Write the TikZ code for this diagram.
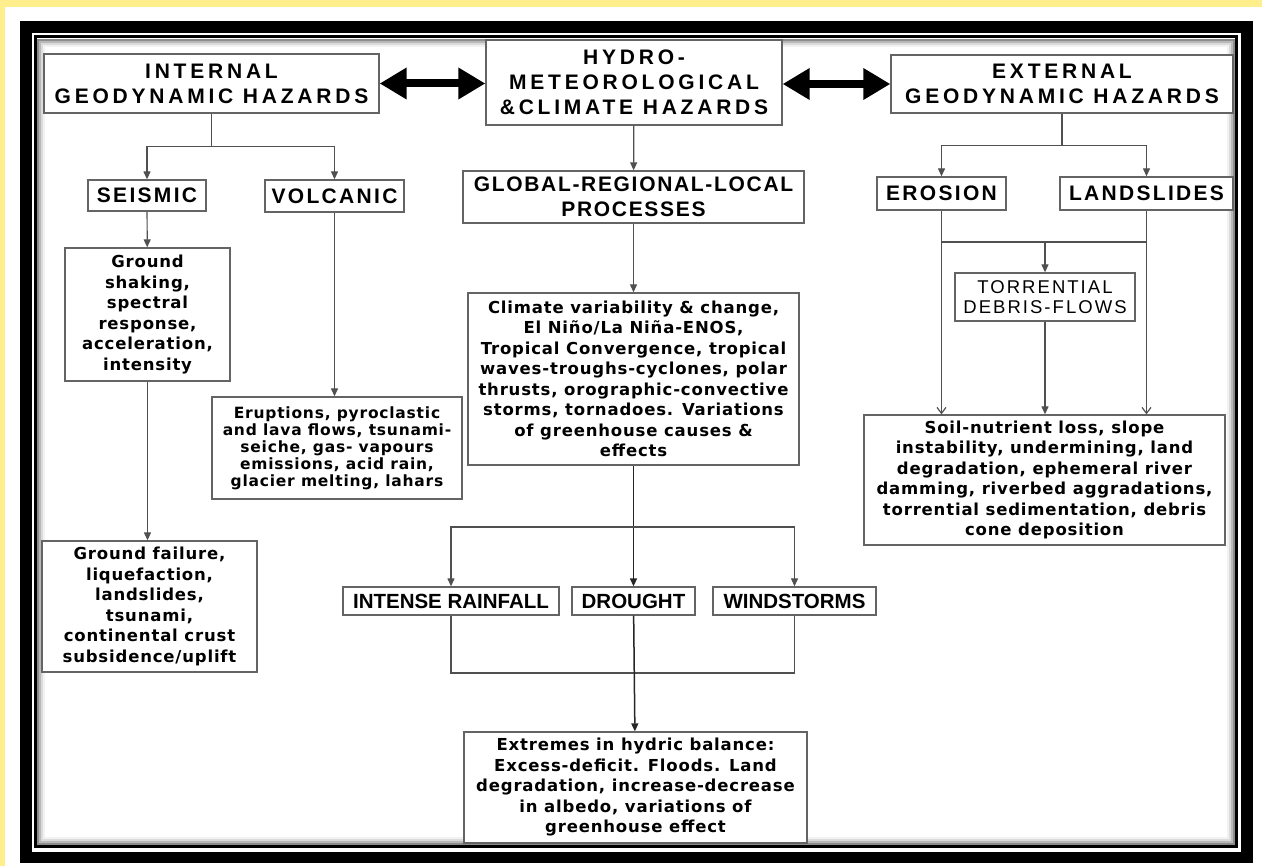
\documentclass[tikz,border=0pt]{standalone}
\usepackage{fontspec}
\setmainfont{Liberation Sans}
\newfontfamily\hdfont[LetterSpace=18]{Liberation Sans}
\newfontfamily\subfont[LetterSpace=11]{Liberation Sans}
\newfontfamily\glfont[LetterSpace=8]{Liberation Sans}
\newfontfamily\bodyfont[LetterSpace=5]{DejaVu Sans}
\usetikzlibrary{arrows.meta,positioning,calc}

\definecolor{pagebg}{RGB}{255,238,140}
\definecolor{lncol}{RGB}{80,80,80}
\definecolor{boxcol}{RGB}{100,100,100}

\begin{document}
\begin{tikzpicture}[x=1pt, y=-1pt,
  box/.style={rectangle, draw=boxcol, line width=1.3pt, fill=white,
              inner sep=0pt, align=center},
  hd/.style={box, font=\hdfont\bfseries\fontsize{21}{25}\selectfont},
  sub/.style={box, font=\subfont\bfseries\fontsize{21}{25}\selectfont},
  glob/.style={box, font=\glfont\bfseries\fontsize{21}{25}\selectfont},
  opt/.style={box, font=\bfseries\fontsize{20.5}{24}\selectfont},
  torrbox/.style={box, font=\subfont\fontsize{18.5}{20}\selectfont},
  body/.style={box, font=\bodyfont\bfseries\fontsize{16.5}{20.5}\selectfont},
  ln/.style={draw=lncol, line width=1.2pt},
  spine/.style={draw=black!85, line width=1.5pt},
  ar/.style={ln, -{Triangle[length=8pt,width=7pt]}},
  barb/.style={ln, -{Straight Barb[length=6pt,width=9pt]}},
  dbl/.style={{Triangle[length=27pt,width=30pt]}-{Triangle[length=27pt,width=30pt]}, line width=8pt}
]
\useasboundingbox (0,0) rectangle (1262,866);
\fill[pagebg] (0,0) rectangle (1262,866);
\fill[white] (5,7) rectangle (1262,866);
\draw[line width=11.5pt] (26,27) rectangle (1247,857.5);
\foreach \d/\c in {3/45,5/28,7/14,9/5}
  \draw[black!\c, line width=2pt] (35+\d,37+\d) rectangle (1236.5-\d,846.5-\d);
\draw[line width=3pt] (35,37) rectangle (1236.5,846.5);

\node[hd, minimum width=335pt, minimum height=59pt] (intgeo) at (211.5,83.5) {INTERNAL\\GEODYNAMIC HAZARDS};
\node[hd, minimum width=296pt, minimum height=85pt] (hydro)  at (634,82.5)   {HYDRO-\\METEOROLOGICAL\\\&CLIMATE HAZARDS};
\node[hd, minimum width=342pt, minimum height=58pt] (extgeo) at (1062,84)    {EXTERNAL\\GEODYNAMIC HAZARDS};

\node[sub, minimum width=118pt, minimum height=31pt] (seis) at (147,195.5)    {SEISMIC};
\node[sub, minimum width=139pt, minimum height=32pt] (volc) at (334.5,196)    {VOLCANIC};
\node[glob, minimum width=341pt, minimum height=52pt] (glpro) at (633.5,197)  {GLOBAL-REGIONAL-LOCAL\\PROCESSES};
\node[sub, minimum width=129pt, minimum height=33pt] (eros) at (941.5,193.5)  {EROSION};
\node[sub, minimum width=173pt, minimum height=33pt] (land) at (1146.5,193.5) {LANDSLIDES};

\node[body, minimum width=165pt, minimum height=133pt] (shake) at (147.5,314.5) {Ground\\shaking,\\spectral\\response,\\acceleration,\\intensity};
\node[body, minimum width=215pt, minimum height=131pt] (fail)  at (149.5,606.5) {Ground failure,\\liquefaction,\\landslides,\\tsunami,\\continental crust\\subsidence/uplift};
\node[body, minimum width=250pt, minimum height=102pt, font=\bodyfont\bfseries\fontsize{15.5}{17}\selectfont] (erupt) at (337,448) {Eruptions, pyroclastic\\and lava flows, tsunami-\\seiche, gas- vapours\\emissions, acid rain,\\glacier melting, lahars};
\node[body, minimum width=331pt, minimum height=172pt] (clim) at (633.5,379) {Climate variability \& change,\\El Niño/La Niña-ENOS,\\Tropical Convergence, tropical\\waves-troughs-cyclones, polar\\thrusts, orographic-convective\\storms, tornadoes. Variations\\of greenhouse causes \&\\effects};
\node[torrbox, minimum width=180pt, minimum height=48pt] (torr) at (1045,297) {TORRENTIAL\\DEBRIS-FLOWS};
\node[body, minimum width=361pt, minimum height=130pt] (soil) at (1044.5,480) {Soil-nutrient loss, slope\\instability, undermining, land\\degradation, ephemeral river\\damming, riverbed aggradations,\\torrential sedimentation, debris\\cone deposition};

\node[opt, minimum width=216pt, minimum height=28pt] (rain)    at (451,601)   {INTENSE RAINFALL};
\node[opt, minimum width=123pt, minimum height=28pt] (drought) at (633.5,601) {DROUGHT};
\node[opt, minimum width=163pt, minimum height=28pt] (wind)    at (794.5,601) {WINDSTORMS};
\node[body, minimum width=343pt, minimum height=111pt] (extr) at (635.5,787.5) {Extremes in hydric balance:\\Excess-deficit. Floods. Land\\degradation, increase-decrease\\in albedo, variations of\\greenhouse effect};

\draw[dbl] (intgeo.east) -- (intgeo.east -| hydro.west);
\draw[dbl] (hydro.east |- extgeo.west) -- (extgeo.west);

\draw[ln] (intgeo.south) -- ++(0,33) coordinate (lsplit);
\draw[ar] (lsplit) -| (seis);
\draw[ar] (lsplit) -| (volc);
\draw[ar] (seis) -- (shake);
\draw[ar] (shake) -- (shake |- fail.north);
\draw[ar] (volc) -- (volc |- erupt.north);

\draw[ar] (hydro) -- (glpro);
\draw[ar] (glpro) -- (clim);
\coordinate (msplit) at (634,527);
\coordinate (mjoin) at (634,673);
\draw[spine, -{Triangle[length=8pt,width=7pt]}] (clim) -- (drought);
\draw[ar] (msplit) -| (rain);
\draw[ar] (msplit) -| (wind);
\draw[ln] (rain.south) |- (mjoin) -| (wind.south);
\draw[spine, -{Triangle[length=8pt,width=7pt]}] (drought) -- (extr);

\draw[ln] (extgeo.south) -- ++(0,32) coordinate (rsplit);
\draw[ar] (rsplit) -| (eros);
\draw[ar] (rsplit) -| (land);
\coordinate (rbar) at (1045,242);
\draw[ln] (eros |- rbar) -- (land |- rbar);
\draw[barb] (eros) -- (eros |- soil.north);
\draw[barb] (land) -- (land |- soil.north);
\draw[ar] (rbar) -- (torr);
\draw[ar] (torr) -- (torr |- soil.north);
\end{tikzpicture}
\end{document}
